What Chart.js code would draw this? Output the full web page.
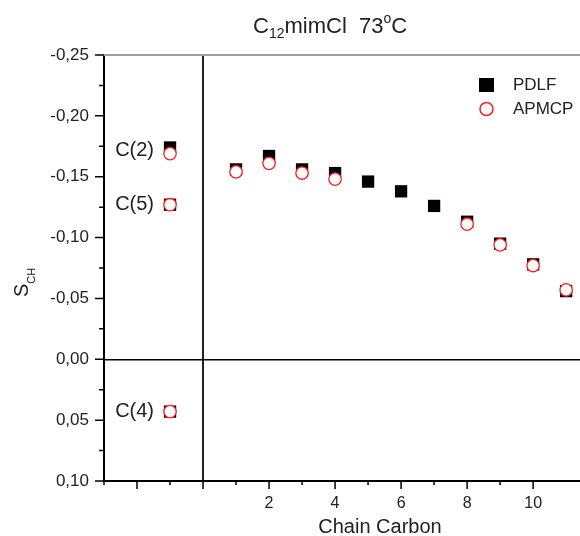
<!DOCTYPE html>
<html>
<head>
<meta charset="utf-8">
<script src="https://cdn.jsdelivr.net/npm/chart.js@4"></script>
<style>
body{margin:0;background:#fff}
</style>
</head>
<body>
<canvas id="myChart" width="580" height="536"></canvas>
<script>
// head group carbons, drawn left of the zero line
var headLabels = ["C(2)", "C(5)", "C(4)"];
var headPos = [-1, -1, -1];
var headPdlf = [-0.174, -0.127, 0.043];
var headApmcp = [-0.169, -0.127, 0.043];

// chain carbons
var chainCarbons = [1, 2, 3, 4, 5, 6, 7, 8, 9, 10, 11];
var chainPdlf = [-0.156, -0.167, -0.156, -0.153, -0.146, -0.138, -0.126, -0.113, -0.095, -0.078, -0.056];
var chainApmcp = [-0.154, -0.161, -0.153, -0.148, null, null, null, -0.111, -0.094, -0.077, -0.057];

var xTickLabels = ["2", "4", "6", "8", "10"];
var yTickLabels = ["-0,25", "-0,20", "-0,15", "-0,10", "-0,05", "0,00", "0,05", "0,10"];

var FONT = '"Liberation Sans", Arial, sans-serif';
Chart.defaults.font.family = FONT;
Chart.defaults.color = '#222';

function points(xs, ys) {
  var out = [];
  for (var i = 0; i < xs.length; i++) {
    if (ys[i] !== null) out.push({x: xs[i], y: ys[i]});
  }
  return out;
}

function fmtY(v) {
  var r = Math.round(v * 1000) / 1000;
  if (Math.abs(r) < 1e-9) r = 0;
  return r.toFixed(2).replace('.', ',');
}

function isMajorY(v) {
  return Math.abs(Math.round(v * 20) - v * 20) < 1e-6;
}

// sub/superscript text pieces
function drawPieces(c, x, y, pieces) {
  pieces.forEach(function(p) {
    c.font = p[1] + 'px ' + FONT;
    c.fillText(p[0], x, y + p[2]);
    x += c.measureText(p[0]).width;
  });
}

var extras = {
  id: 'extras',
  afterDraw: function(chart) {
    var c = chart.ctx, a = chart.chartArea;
    var xs = chart.scales.x, ys = chart.scales.y;
    c.save();

    // top frame line
    c.strokeStyle = '#a0a0a0';
    c.lineWidth = 2;
    c.beginPath();
    c.moveTo(a.left - 1, a.top);
    c.lineTo(a.right, a.top);
    c.stroke();

    // tick marks
    c.strokeStyle = '#000';
    c.lineWidth = 1.5;
    c.beginPath();
    ys.ticks.forEach(function(t) {
      var y = ys.getPixelForValue(t.value);
      var len = isMajorY(t.value) ? 9 : 5;
      c.moveTo(a.left - len, y);
      c.lineTo(a.left, y);
    });
    xs.ticks.forEach(function(t) {
      if (Math.abs(t.value - Math.round(t.value)) > 1e-6) return;
      var x = xs.getPixelForValue(t.value);
      var len = (Math.round(t.value) % 2 === 0) ? 8 : 4;
      c.moveTo(x, a.bottom);
      c.lineTo(x, a.bottom + len);
    });
    c.stroke();

    c.fillStyle = '#222';
    c.textAlign = 'left';
    c.textBaseline = 'alphabetic';

    // title
    drawPieces(c, 253, 33, [['C', 22, 0], ['12', 14, 5], ['mimCl  73', 22, 0], ['o', 14, -10], ['C', 22, 0]]);

    // x axis title
    c.font = '20px ' + FONT;
    c.textAlign = 'center';
    c.fillText('Chain Carbon', 380, 533);

    // y axis title
    c.save();
    c.translate(28, 297);
    c.rotate(-Math.PI / 2);
    c.textAlign = 'left';
    drawPieces(c, 0, 0, [['S', 20, 0], ['CH', 11, 7]]);
    c.restore();

    // head group labels
    c.font = '20px ' + FONT;
    c.textAlign = 'right';
    c.textBaseline = 'middle';
    for (var i = 0; i < headLabels.length; i++) {
      var y = (ys.getPixelForValue(headPdlf[i]) + ys.getPixelForValue(headApmcp[i])) / 2;
      c.fillText(headLabels[i], xs.getPixelForValue(headPos[i]) - 16, y);
    }

    // legend
    c.fillStyle = '#000';
    c.fillRect(479, 78, 15, 14);
    c.beginPath();
    c.arc(486.5, 109, 6.5, 0, Math.PI * 2);
    c.fillStyle = '#fff';
    c.fill();
    c.strokeStyle = '#ff2020';
    c.lineWidth = 1.5;
    c.stroke();
    c.fillStyle = '#222';
    c.textAlign = 'left';
    c.font = '17px ' + FONT;
    c.fillText('PDLF', 513, 85);
    c.fillText('APMCP', 513, 109);

    c.restore();
  }
};

var ctx = document.getElementById('myChart');
var myChart = new Chart(ctx, {
  type: 'scatter',
  data: {
    datasets: [{
      label: 'PDLF',
      data: points(headPos, headPdlf).concat(points(chainCarbons, chainPdlf)),
      pointStyle: 'rect',
      pointRadius: 8.7,
      pointHoverRadius: 8.7,
      backgroundColor: '#000',
      borderColor: '#000',
      borderWidth: 0,
      order: 2
    }, {
      label: 'APMCP',
      data: points(headPos, headApmcp).concat(points(chainCarbons, chainApmcp)),
      pointStyle: 'circle',
      pointRadius: 6.2,
      pointHoverRadius: 6.2,
      backgroundColor: '#fff',
      borderColor: '#ff2020',
      borderWidth: 1.3,
      order: 1
    }]
  },
  options: {
    responsive: false,
    animation: false,
    layout: {autoPadding: false, padding: {top: 55, left: 0, right: 0, bottom: 0}},
    plugins: {
      legend: {display: false},
      tooltip: {enabled: false}
    },
    scales: {
      x: {
        type: 'linear',
        min: -3,
        max: 11.42,
        afterFit: function(s) { s.height = 55; s.paddingLeft = 0; s.paddingRight = 0; },
        border: {display: true, color: '#000', width: 2},
        grid: {
          drawTicks: false,
          lineWidth: 2,
          color: function(c) { return c.tick && c.tick.value === 0 ? '#222' : 'rgba(0,0,0,0)'; }
        },
        ticks: {
          stepSize: 1,
          autoSkip: false,
          maxRotation: 0,
          padding: 13,
          font: {size: 16},
          callback: function(v) {
            var s = String(v);
            return xTickLabels.indexOf(s) >= 0 ? s : '';
          }
        }
      },
      y: {
        type: 'linear',
        reverse: true,
        min: -0.25,
        max: 0.10,
        afterFit: function(s) { s.width = 104; s.paddingTop = 0; s.paddingBottom = 0; },
        border: {display: true, color: '#000', width: 2},
        grid: {
          drawTicks: false,
          lineWidth: 1.5,
          color: function(c) { return c.tick && Math.abs(c.tick.value) < 1e-9 ? '#000' : 'rgba(0,0,0,0)'; }
        },
        ticks: {
          stepSize: 0.025,
          autoSkip: false,
          padding: 15,
          font: {size: 17},
          callback: function(v) {
            if (!isMajorY(v)) return '';
            var s = fmtY(v);
            return yTickLabels.indexOf(s) >= 0 ? s : '';
          }
        }
      }
    }
  },
  plugins: [extras]
});
</script>
</body>
</html>
